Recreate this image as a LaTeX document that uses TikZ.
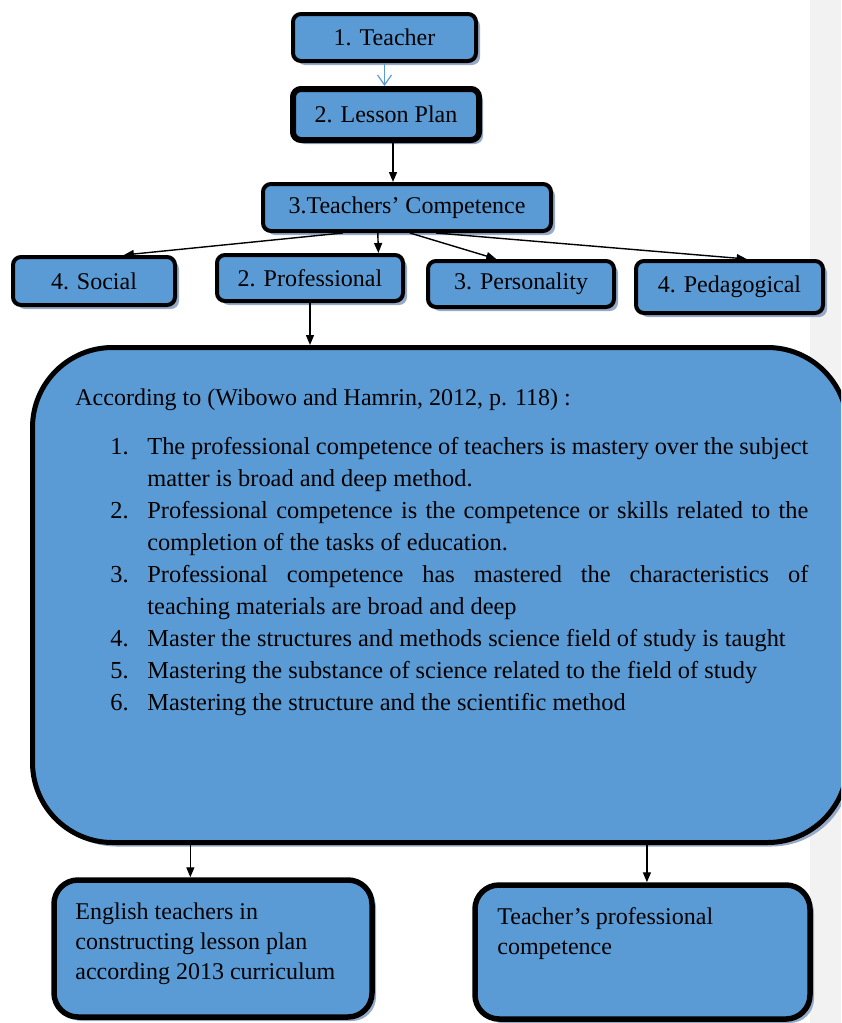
\documentclass[tikz,border=0pt]{standalone}
\usepackage{fontspec}
\setmainfont{Liberation Serif}
\usetikzlibrary{arrows.meta,shadows,calc}
\definecolor{boxblue}{RGB}{91,155,213}
\definecolor{shadeblue}{RGB}{150,170,200}
\definecolor{stripgray}{RGB}{242,242,242}
\newcommand{\listitem}[1]{\par\noindent\hangindent=18.5pt\hangafter=1\makebox[18.5pt][l]{\strut#1}}

\begin{document}
\begin{tikzpicture}[x=0.5pt,y=-0.5pt,font=\fontsize{12}{16}\selectfont,
    box/.style={draw,line width=2pt,fill=boxblue,rounded corners=4pt,inner sep=0pt,
      general shadow={fill=shadeblue,shadow xshift=2pt,shadow yshift=-2pt}},
    arr/.style={-{Triangle[length=5pt,width=4pt]},line width=0.7pt},
    bluearr/.style={-{Straight Barb[length=5pt,width=7pt]},draw=boxblue,line width=0.6pt}]
    \clip (0,0) rectangle (841,1023);
    \fill[stripgray] (810,0) rectangle (841,1023);
    \node[box,minimum width=91.5pt,minimum height=23.5pt] (teacher) at (384.5,37.5) {1. Teacher};
    \node[box,line width=3pt,minimum width=93pt,minimum height=25.5pt] (plan) at (386,114.5) {2. Lesson Plan};
    \node[box,minimum width=144pt,minimum height=23.5pt] (comp) at (407,207.5) {3.Teachers’ Competence};
    \node[box,minimum width=81pt,minimum height=24pt] (social) at (94,281) {4. Social};
    \node[box,minimum width=93pt,minimum height=23pt] (prof) at (310,278) {2. Professional};
    \node[box,minimum width=93pt,minimum height=23pt] (pers) at (521,284) {3. Personality};
    \node[box,minimum width=93.5pt,minimum height=26pt] (peda) at (729.5,287) {4. Pedagogical};
    \node[box,line width=2.5pt,rounded corners=40pt,minimum width=407.5pt,minimum height=247.5pt] (big) at (440,595) {};
    \node[box,line width=2.75pt,rounded corners=12pt,minimum width=159pt,minimum height=68.5pt] (eng) at (213,948.5) {};
    \node[box,line width=2.75pt,rounded corners=12pt,minimum width=167.5pt,minimum height=67pt] (tpc) at (642.5,952) {};

    \node[anchor=base west,inner sep=0pt] (cite) at (75,405) {According to (Wibowo and Hamrin, 2012, p. 118) :};
    \node[anchor=north west,inner sep=0pt,text width=349pt,align=justify,font=\fontsize{12.2}{16}\selectfont] (items) at (110,422) {%
      \hyphenpenalty=10000 \spaceskip=0.25em plus 0.3em minus 0.1em
      \listitem{1.}The professional competence of teachers is mastery over the subject\linebreak matter is broad and deep method.
      \listitem{2.}Professional competence is the competence or skills related to the\linebreak completion of the tasks of education.
      \listitem{3.}Professional competence has mastered the characteristics of\linebreak teaching materials are broad and deep
      \listitem{4.}Master the structures and methods science field of study is taught
      \listitem{5.}Mastering the substance of science related to the field of study
      \listitem{6.}Mastering the structure and the scientific method\par};
    \node[anchor=north west,inner sep=0pt,align=left,font=\fontsize{12}{15}\selectfont] (engtext) at (75,898)
      {\strut English teachers in\\constructing lesson plan\\according 2013 curriculum};
    \node[anchor=north west,inner sep=0pt,align=left,font=\fontsize{12}{15}\selectfont] (tpctext) at (497,903)
      {\strut Teacher’s professional\\competence};

    \coordinate (p1) at ($(plan.south)+(7,0)$);
    \coordinate (e1) at ($(eng.north west)!0.43!(eng.north east)$);
    \coordinate (t1) at ($(tpc.north west)!0.513!(tpc.north east)$);
    \draw[bluearr] (teacher.south) -- (teacher.south |- plan.north);
    \draw[arr] (p1) -- (p1 |- comp.north);
    \draw[arr] ($(comp.south west)!0.28!(comp.south east)$) -- ($(social.north west)!0.68!(social.north east)$);
    \draw[arr] ($(comp.south west)!0.40!(comp.south east)$) -- ($(prof.north west)!0.86!(prof.north east)$);
    \draw[arr] ($(comp.south west)!0.51!(comp.south east)$) -- ($(pers.north west)!0.37!(pers.north east)$);
    \draw[arr] ($(comp.south west)!0.60!(comp.south east)$) -- ($(peda.north west)!0.59!(peda.north east)$);
    \draw[arr] (prof.south) -- (prof.south |- big.north);
    \draw[arr] (e1 |- big.south) -- (e1);
    \draw[arr] (t1 |- big.south) -- (t1);
\end{tikzpicture}
\end{document}
